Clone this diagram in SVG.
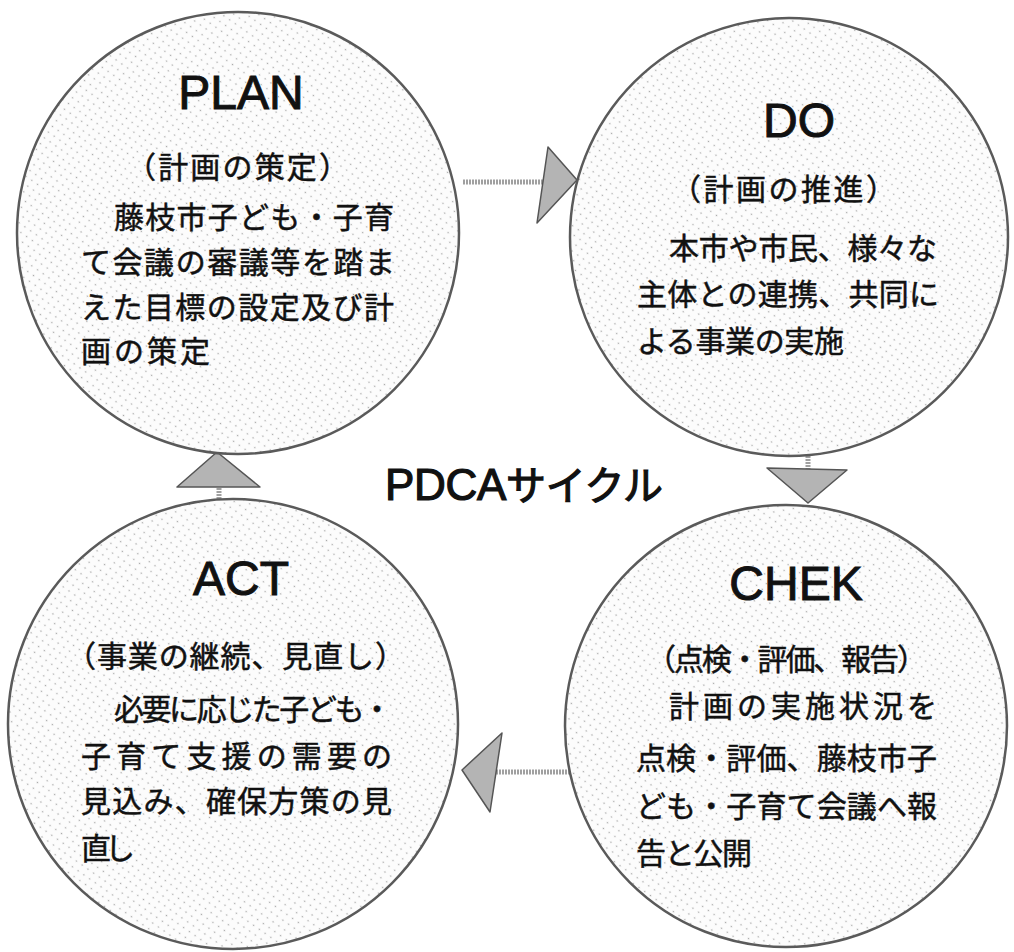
<svg xmlns="http://www.w3.org/2000/svg" width="1014" height="952" viewBox="0 0 1014 952">
<style>
.node{fill:url(#dots);stroke:#5a5a5a;stroke-width:2.5}
.title{font-family:"Liberation Sans",Arial,sans-serif;font-size:48px;fill:#111;stroke:#111;stroke-width:1;text-anchor:middle}
.jp{font-family:"Noto Sans CJK JP",sans-serif;font-size:30px;fill:#111;stroke:#111;stroke-width:0.5}
.link{stroke:#a0a0a0;stroke-width:5;fill:none;stroke-dasharray:2 1}
.head{fill:#b4b4b4;stroke:#555;stroke-width:1.5;stroke-linejoin:round}
.center{font-family:"Liberation Sans","Noto Sans CJK JP",sans-serif;font-size:44px;fill:#111;stroke:#111;stroke-width:1.2}
</style>
<defs>
<pattern id="dots" width="7" height="7" patternUnits="userSpaceOnUse" patternTransform="rotate(35)">
<rect width="7" height="7" fill="#fcfcfc"/>
<circle cx="3.5" cy="3.5" r="0.8" fill="#a8a8a8"/>
</pattern>
</defs>
<rect width="1014" height="952" fill="#ffffff"/>

<g id="connectors">
<line class="link" x1="463" y1="182" x2="548" y2="182"/>
<polygon class="head" points="548,147 577,180 537,223"/>
<line class="link" x1="808" y1="456" x2="808" y2="470"/>
<polygon class="head" points="767,468 847,470 808,503"/>
<line class="link" x1="570" y1="772" x2="490" y2="772"/>
<polygon class="head" points="502,733 462,770 490,812"/>
<line class="link" x1="219" y1="499" x2="219" y2="486"/>
<polygon class="head" points="177,487 260,487 217,452"/>
</g>

<g id="plan">
<circle class="node" cx="238" cy="233" r="221"/>
<text class="title" x="241" y="109">PLAN</text>
<text class="jp" x="126" y="178" textLength="223" lengthAdjust="spacing">（計画の策定）</text>
<text class="jp" x="114" y="228" textLength="280" lengthAdjust="spacing">藤枝市子ども・子育</text>
<text class="jp" x="81" y="273" textLength="314" lengthAdjust="spacing">て会議の審議等を踏ま</text>
<text class="jp" x="81" y="318" textLength="313" lengthAdjust="spacing">えた目標の設定及び計</text>
<text class="jp" x="81" y="362" textLength="129" lengthAdjust="spacing">画の策定</text>
</g>

<g id="do">
<circle class="node" cx="789" cy="237" r="219"/>
<text class="title" x="799" y="137">DO</text>
<text class="jp" x="671" y="200" textLength="225" lengthAdjust="spacing">（計画の推進）</text>
<text class="jp" x="669" y="259" textLength="268" lengthAdjust="spacing">本市や市民、様々な</text>
<text class="jp" x="637" y="305" textLength="302" lengthAdjust="spacing">主体との連携、共同に</text>
<text class="jp" x="637" y="352" textLength="207" lengthAdjust="spacing">よる事業の実施</text>
</g>

<g id="act">
<circle class="node" cx="233" cy="724" r="225"/>
<text class="title" x="241" y="595">ACT</text>
<text class="jp" x="66" y="667" textLength="339" lengthAdjust="spacing">（事業の継続、見直し）</text>
<text class="jp" x="114" y="720" textLength="278" lengthAdjust="spacing">必要に応じた子ども・</text>
<text class="jp" x="81" y="767" textLength="311" lengthAdjust="spacing">子育て支援の需要の</text>
<text class="jp" x="81" y="812" textLength="311" lengthAdjust="spacing">見込み、確保方策の見</text>
<text class="jp" x="81" y="859" textLength="54" lengthAdjust="spacing">直し</text>
</g>

<g id="chek">
<circle class="node" cx="786" cy="726" r="221"/>
<text class="title" x="796" y="600">CHEK</text>
<text class="jp" x="646" y="670" textLength="281" lengthAdjust="spacing">（点検・評価、報告）</text>
<text class="jp" x="669" y="717" textLength="268" lengthAdjust="spacing">計画の実施状況を</text>
<text class="jp" x="636" y="769" textLength="301" lengthAdjust="spacing">点検・評価、藤枝市子</text>
<text class="jp" x="636" y="817" textLength="301" lengthAdjust="spacing">ども・子育て会議へ報</text>
<text class="jp" x="636" y="864" textLength="116" lengthAdjust="spacing">告と公開</text>
</g>

<g id="label">
<text class="center" x="385" y="500" textLength="278" lengthAdjust="spacing">PDCA<tspan font-size="40">サイクル</tspan></text>
</g>
</svg>
